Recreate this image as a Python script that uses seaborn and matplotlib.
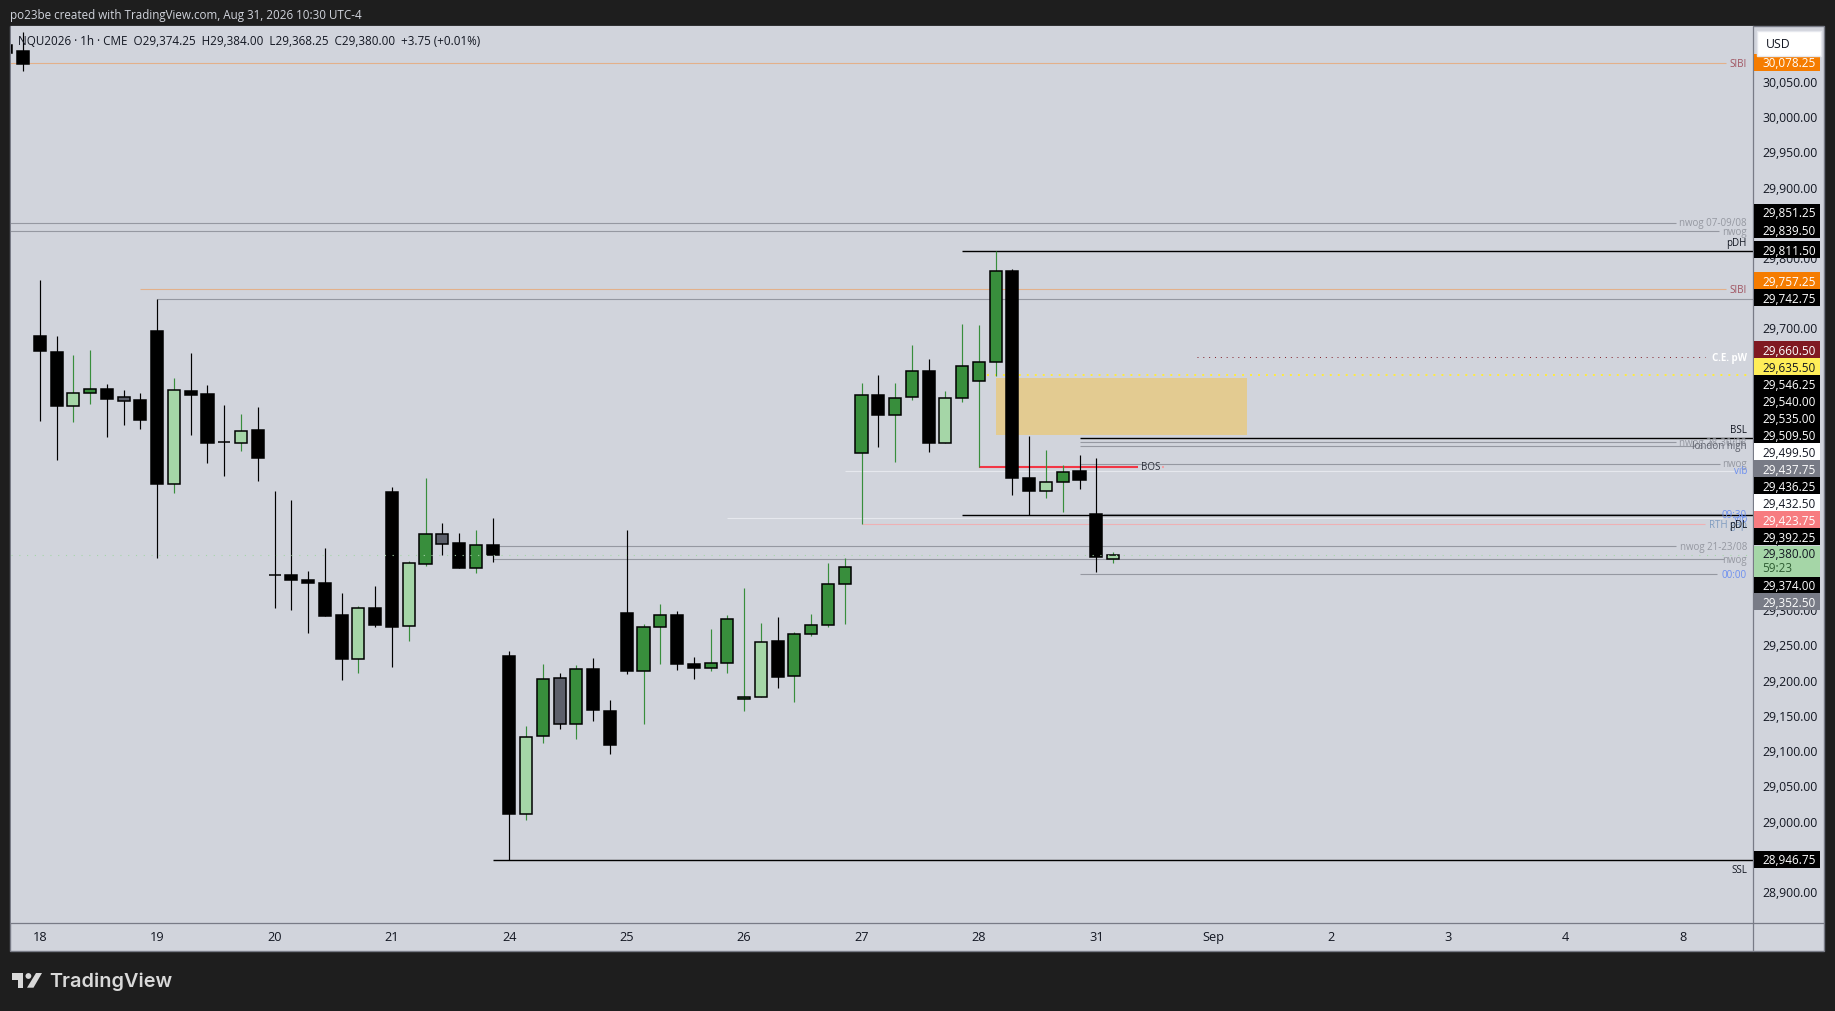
import pandas as pd
import numpy as np
import matplotlib.pyplot as plt
import seaborn as sns
from matplotlib.patches import Rectangle, Polygon, Circle
from matplotlib.lines import Line2D
from matplotlib.transforms import ScaledTranslation

# candle data, first visible bar is index -1
opens = [30104.25, 30094.75, 29691, 29668.5, 29590.75, 29609.25, 29616, 29604.5, 29600.25, 29697.25,
         29481, 29613, 29608.75, 29540.25, 29538.25, 29557.5, 29351.5, 29351.75, 29344.75, 29340.5,
         29295, 29232.5, 29305, 29469.5, 29279.5, 29367.75, 29410, 29397.25, 29361.75, 29394.5,
         29236.75, 29012, 29122.75, 29205, 29139.75, 29218, 29158.75, 29298, 29215, 29277.5,
         29295, 29225.5, 29219.25, 29226.5, 29175.25, 29178.25, 29257.75, 29208, 29267.5, 29280.5,
         29338.5, 29524.5, 29607, 29578, 29603.5, 29641.5, 29538.25, 29602, 29627.5, 29653.25,
         29783.5, 29489, 29470, 29482.75, 29499.5, 29438.5, 29374.25]
highs = [30110, 30122.25, 29770.5, 29691, 29664, 29671.25, 29623, 29614.5, 29610.25, 29743.5,
         29631.5, 29667, 29621.5, 29593, 29580.5, 29590.25, 29471, 29458.25, 29357.5, 29390,
         29326.25, 29307.75, 29336.25, 29476.75, 29371.75, 29489.5, 29425.5, 29411.5, 29415.75, 29432.75,
         29243.5, 29137.5, 29225.5, 29212.75, 29223.5, 29234, 29174.25, 29415.75, 29281.75, 29310.5,
         29300.75, 29235.5, 29275, 29295, 29333.25, 29283.75, 29292.25, 29271, 29296.5, 29368.75,
         29375.5, 29624, 29635.75, 29624, 29678.25, 29658.5, 29612.5, 29708, 29706.75, 29811.5,
         29786.25, 29549, 29529.25, 29508, 29522.25, 29518, 29384]
lows = [30085, 30066.25, 29569.5, 29515, 29568, 29593.5, 29547.75, 29564.75, 29559, 29376,
        29468.25, 29550.5, 29510.75, 29492.25, 29527.75, 29485.25, 29305, 29302, 29269.5, 29293.5,
        29202.75, 29212.75, 29278, 29221.25, 29258, 29364.5, 29380.25, 29361.75, 29354.5, 29370.25,
        28946.75, 29003, 29112.25, 29133.5, 29118, 29143.5, 29096.75, 29210.25, 29139.25, 29224.5,
        29216, 29203.25, 29214.5, 29213, 29157.75, 29178.25, 29190.5, 29170.5, 29264.25, 29277,
        29281.25, 29424.25, 29532.5, 29512.5, 29599.25, 29526.75, 29538.25, 29596.5, 29505, 29633.25,
        29465.5, 29436.5, 29461, 29441.25, 29474, 29356, 29368.25]
closes = [30092.5, 30077.25, 29668.75, 29590.75, 29609.75, 29615.5, 29601.75, 29598.75, 29571.75, 29481,
          29614.5, 29607.25, 29539.25, 29540, 29555.75, 29518, 29351.25, 29344.75, 29340.5, 29293.5,
          29232.5, 29305, 29280.75, 29278, 29368.75, 29410, 29394.75, 29361.75, 29394.5, 29380.25,
          29011.5, 29121.5, 29203.75, 29139.75, 29218, 29159.25, 29109.5, 29214.5, 29277.5, 29294.5,
          29224.5, 29218.75, 29226.5, 29289, 29178.25, 29256.25, 29206, 29267.5, 29280.5, 29338.5,
          29362.75, 29607, 29578, 29602.75, 29641, 29538.25, 29602.75, 29648, 29653.75, 29783,
          29488.5, 29470, 29483.5, 29497.5, 29487, 29376.5, 29380]
# K black, G green, L light green, S slate
kinds = list("KKKKLGKSKKLKKKLKKKKKKLKKLGSKGK"
             "KLGSGKKKGG" "KKGGGLKGGG" "GGKGGKLGGG"
             "KKLGKKL")

# horizontal levels
level_prices = [30078.25, 29851.25, 29839.5, 29811.5, 29757.25, 29742.75, 29660.5, 29635.5,
                29546.25, 29540, 29535, 29509.5, 29505, 29499.5, 29437.75, 29436.25,
                29432.5, 29423.75, 29392.25, 29374, 29352.5, 28946.75]
level_starts = [-1, -1, -1, 56, 7, 8, 70, 57, 63, 63, 63, 63, 57, 49, 64.4, 56, 42, 50, 28, 28, 63, 28]
level_ends = [101.55, 98.54, 101.13, 103.16, 101.55, 103.16, 100.3, 103.0, 103.16, 98.54, 99.7,
              101.2, 66.5, 102.0, 101.35, 103.16, 101.35, 100.3, 98.54, 101.43, 101.0, 103.16]
level_colors = ["#e3b08a", "#9598a1", "#9598a1", "black", "#e3b08a", "#9598a1", "#801922", "#ffeb3b",
                "black", "#9598a1", "#9598a1", "#9598a1", "#f23645", "#e6e8ee", "#9598a1", "black",
                "#e6e8ee", "#eeb0b4", "#9598a1", "#9598a1", "#9598a1", "black"]
level_widths = [0.8, 0.8, 0.8, 1, 0.8, 0.8, 0.7, 1.4, 1, 0.8, 0.8, 0.8, 1.5, 0.8, 0.8, 1, 0.8, 0.8, 0.8, 0.8, 0.8, 1]
level_styles = ["-"] * 22
level_styles[6] = (0, (1, 5))
level_styles[7] = (0, (1, 3.1))

# text next to the levels: label, price, colour, pixel shift down
level_labels = ["SIBI", "nwog 07-09/08", "nwog", "pDH", "SIBI", "C.E. pW", "BSL", "nwog 28-30/08", "london high",
                "nwog", "vib", "09:30", "vib", "RTH gap", "pDL", "nwog 21-23/08", "nwog", "00:00", "SSL"]
label_prices = [30078.25, 29851.25, 29839.5, 29811.5, 29757.25, 29660.5, 29546.25, 29540, 29535,
                29509.5, 29499.5, 29437.75, 29432.5, 29423.75, 29436.25, 29392.25, 29374, 29352.5, 28946.75]
label_colors = ["#a0525f", "#9598a1", "#9598a1", "#131722", "#a0525f", "white", "#131722", "#9598a1", "#5d606b",
                "#9598a1", "#6c8ff0", "#6c8ff0", "#6c8ff0", "#7f9cc0", "#131722", "#9598a1", "#9598a1", "#6c8ff0", "#131722"]
label_shift = [0, 0, 0, -8, 0, 0, -8, 0, 0, 0, 0, 0, 1, 0, 9, 0, 0, 0, 9]

# price tags on the axis, stacked the way the screenshot has them
tag_texts = ["30,078.25", "29,851.25", "29,839.50", "29,811.50", "29,757.25", "29,742.75", "29,660.50",
             "29,635.50", "29,546.25", "29,540.00", "29,535.00", "29,509.50", "29,499.50", "29,437.75",
             "29,436.25", "29,432.50", "29,423.75", "29,392.25", "29,374.00", "29,352.50", "28,946.75"]
tag_rows = [63.3, 213.3, 230.7, 250.7, 281.7, 298.7, 350.7, 367.7, 385, 401.7, 418.7, 435.7, 452.7, 469.7,
            486.7, 504, 521, 537.7, 585.7, 602.7, 860.3]
tag_colors = ["#f57c00", "black", "black", "black", "#f57c00", "black", "#801922", "#ffee58", "black", "black",
              "black", "black", "white", "#787b86", "black", "white", "#f77c80", "black", "black", "#787b86", "black"]
tag_text_colors = ["white", "white", "white", "white", "white", "white", "white", "#131722", "white", "white",
                   "white", "white", "#131722", "white", "white", "#131722", "white", "white", "white", "white", "white"]

price_ticks = list(range(28900, 30051, 50))
day_bars = [1, 8, 15, 22, 29, 36, 43, 50, 57, 64, 71, 78, 85, 92, 99]
day_labels = ["18", "19", "20", "21", "24", "25", "26", "27", "28", "31", "Sep", "2", "3", "4", "8"]

W, H = 1835, 1012
BG = "#1e1e1e"
PANE = "#d1d4dc"
FONT = "Open Sans"

sns.set_theme(style="white")
plt.rcParams["font.family"] = [FONT, "DejaVu Sans"]

fig = plt.figure(figsize=(W / 100, H / 100), dpi=100, facecolor=BG)


def px_text(x, y, s, **kw):
    fig.text(x / W, 1 - y / H, s, **kw)


def px_rect(x0, y0, x1, y1, **kw):
    fig.add_artist(Rectangle((x0 / W, 1 - y1 / H), (x1 - x0) / W, (y1 - y0) / H, transform=fig.transFigure, **kw))


px_rect(10, 27, 1824, 952, facecolor=PANE, edgecolor="#787b86", linewidth=1, zorder=-1)

ax = fig.add_axes([10.7 / W, 1 - 924 / H, (1753 - 10.7) / W, (924 - 27) / H], facecolor=PANE)

bars = np.arange(-1, len(opens) - 1)
candles = pd.DataFrame({"bar": bars, "open": opens, "high": highs, "low": lows, "close": closes, "kind": kinds})
candles["bottom"] = candles[["open", "close"]].min(axis=1)
candles["height"] = (candles["open"] - candles["close"]).abs()

face = {"K": "black", "G": "#388e3c", "L": "#a5d6a7", "S": "#5d606b"}
wick = {"K": "black", "S": "black", "G": "#388e3c", "L": "#388e3c"}

sns.barplot(data=candles, x="bar", y="height", bottom=candles["bottom"].values, native_scale=True, width=0.72,
            color="black", saturation=1, errorbar=None, edgecolor="black", linewidth=1.1, ax=ax, zorder=3)
for patch, kind in zip(ax.patches, kinds):
    patch.set_facecolor(face[kind])

ax.vlines(candles["bar"], candles["low"], candles["high"], colors=[wick[k] for k in kinds], linewidth=0.85, zorder=2)

# fvg box
ax.add_patch(Rectangle((58, 29549.5), 15, 81.75, facecolor="#e3cb91", edgecolor="none", zorder=1.9))

for price, x0, x1, col, lw, st in zip(level_prices, level_starts, level_ends, level_colors, level_widths, level_styles):
    ax.hlines(price, x0, x1, colors=col, linewidth=lw, linestyles=st, zorder=1.5).set_snap(True)

# current price line
ax.axhline(29380, color="#a5d6a7", linewidth=0.8, linestyle=(0, (1, 6)), zorder=4, snap=True)

for s, price, col, dy in zip(level_labels, label_prices, label_colors, label_shift):
    ax.annotate(s, (102.8, price), xytext=(0, -dy * 0.72), textcoords="offset points", ha="right", va="center",
                color=col, fontsize=7, fontweight="bold" if s == "C.E. pW" else "normal", zorder=5)

# BOS marker
ax.annotate("BOS", (66.65, 29505), ha="left", va="center", color="#2a2e39", fontsize=7, zorder=5)
ax.hlines(29505, 67.9, 68.05, colors="#f2a0a5", linewidth=1.5, zorder=1.5)

ax.set_xlim(-0.735, 103.16)
ax.set_ylim(28857.4, 30130.8)
ax.set_xticks(day_bars)
ax.set_xticklabels(day_labels)
ax.set_yticks(price_ticks)
ax.set_yticklabels([f"{v:,.2f}" for v in price_ticks])
ax.yaxis.tick_right()
ax.tick_params(axis="y", length=0, pad=6.5, labelsize=8.8, labelcolor="#131722")
ax.tick_params(axis="x", length=0, pad=5, labelsize=9.2, labelcolor="#131722")
ax.set_xlabel("")
ax.set_ylabel("")
ax.grid(False)
# tick text sits a bit higher than the data scale in the screenshot
lift = ScaledTranslation(0, 2 / 100, fig.dpi_scale_trans)
for label in ax.get_yticklabels():
    label.set_transform(label.get_transform() + lift)
for side in ["top", "left"]:
    ax.spines[side].set_visible(False)
for side in ["right", "bottom"]:
    ax.spines[side].set_color("#787b86")
    ax.spines[side].set_linewidth(0.9)

# separators and price axis strip
fig.add_artist(Line2D([1753 / W, 1753 / W], [1 - 924 / H, 1 - 952 / H], color="#787b86", linewidth=0.9))
fig.add_artist(Line2D([1753 / W, 1824 / W], [1 - 924 / H, 1 - 924 / H], color="#787b86", linewidth=0.9))

for s, y, col, tcol in zip(tag_texts, tag_rows, tag_colors, tag_text_colors):
    px_rect(1753.7, y - 8.6, 1820, y + 8.6, facecolor=col, edgecolor="none", zorder=3)
    px_text(1762, y + 0.6, s, ha="left", va="center", color=tcol, fontsize=8.5, zorder=4)

# current price tag with countdown
px_rect(1753.7, 547, 1820, 577.7, facecolor="#a5d6a7", edgecolor="none", zorder=3)
px_text(1762, 555, "29,380.00", ha="left", va="center", color="#131722", fontsize=8.5, zorder=4)
px_text(1762, 569, "59:23", ha="left", va="center", color="#2e5c32", fontsize=8.5, zorder=4)

# USD button
px_rect(1757, 32, 1821, 57, facecolor="white", edgecolor="#e6e8ee", linewidth=1, zorder=5)
px_text(1766, 45, "USD", ha="left", va="center", color="#131722", fontsize=8.8, zorder=6)

# header and symbol line
px_text(10, 15.5, "po23be created with TradingView.com, Aug 31, 2026 10:30 UTC-4", ha="left", va="center",
        color=PANE, fontsize=8.35)
px_text(17.8, 41.7, "NQU2026 · 1h · CME  O29,374.25  H29,384.00  L29,368.25  C29,380.00  +3.75 (+0.01%)",
        ha="left", va="center", color="#131722", fontsize=8.35, zorder=6)

# logo
logo = "#d9d9d9"
tf = fig.transFigure
fig.add_artist(Polygon([(12.3 / W, 1 - 974 / H), (23.3 / W, 1 - 974 / H), (23.3 / W, 1 - 988.7 / H),
                        (17.5 / W, 1 - 988.7 / H), (17.5 / W, 1 - 981 / H), (12.3 / W, 1 - 981 / H)],
                       transform=tf, facecolor=logo, edgecolor="none"))
fig.add_artist(Polygon([(36 / W, 1 - 974 / H), (42 / W, 1 - 974 / H), (33.5 / W, 1 - 988.7 / H),
                        (27 / W, 1 - 988.7 / H)], transform=tf, facecolor=logo, edgecolor="none"))
fig.add_artist(Circle((28.4, H - 977), 2.9, transform=None, facecolor=logo, edgecolor="none"))
px_text(49, 981.5, "TradingView", ha="left", va="center", color=logo, fontsize=14.3,
        family=["Inter", "DejaVu Sans"], fontweight="semibold")

fig.savefig("out.png", dpi=100, facecolor=BG)
